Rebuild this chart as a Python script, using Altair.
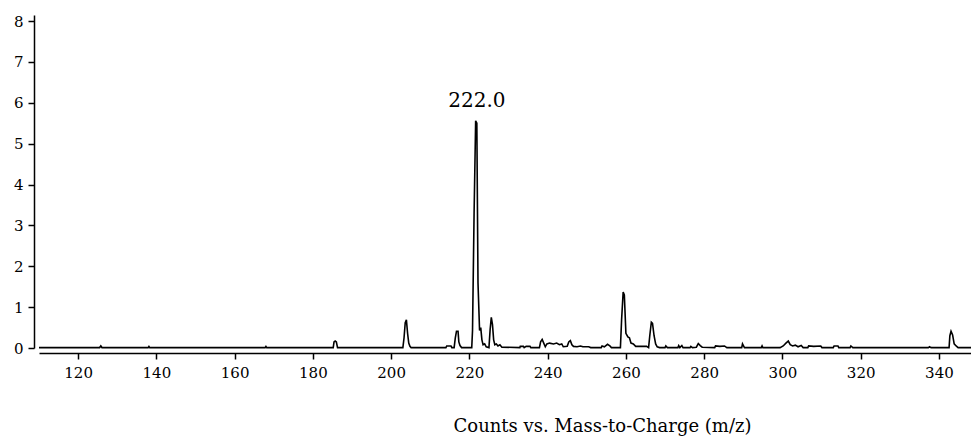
import altair as alt
import pandas as pd

# Spectrum profile (m/z, counts)
mz = [110, 125.5, 125.8, 126.1, 137.9, 138.1, 138.3, 167.8, 168.0, 168.2,
      185.2, 185.4, 185.7, 186.0, 186.3,
      203.0, 203.3, 203.6, 203.9, 204.2, 204.5, 204.8, 205.1,
      214.0, 214.2, 215.3, 215.5,
      216.1, 216.4, 216.7, 217.1, 217.3, 217.6, 218.0,
      220.6, 220.8, 221.2, 221.6, 221.9, 222.2, 222.6, 222.9, 223.2, 223.5, 223.9, 224.3,
      225.0, 225.3, 225.6, 225.9, 226.2, 226.5, 226.9, 227.3, 227.8, 228.3,
      232.9, 233.0, 233.8, 234.0, 234.5, 235.5, 235.7,
      237.9, 238.2, 238.6, 239.0, 239.4, 239.8, 240.5, 241.5, 242.3, 243.0, 243.6, 244.0,
      245.0, 245.4, 245.8, 246.2, 246.6, 247.5, 248.4, 249.0, 250.5, 251.0,
      253.7, 253.9, 254.5, 255.3, 255.9, 256.3,
      258.6, 258.9, 259.3, 259.6, 260.0, 260.5, 260.9, 261.3, 261.9, 262.5, 265.3,
      265.8, 266.1, 266.5, 266.8, 267.2, 267.6, 268.0, 268.6,
      270.0, 270.2, 270.6, 273.3, 273.5, 273.8, 274.3, 274.6, 276.4, 276.6, 277.0,
      278.0, 278.5, 279.0, 279.5, 282.7, 282.9, 284.0, 285.2, 285.8,
      289.6, 289.8, 290.3, 294.6, 294.8, 295.0,
      299.4, 300.2, 300.9, 301.5, 302.0, 302.6, 303.3, 304.0, 304.8, 305.3,
      306.5, 306.7, 308.0, 309.8, 310.1, 313.0, 313.2, 314.2, 314.4,
      317.3, 317.5, 318.0, 337.3, 337.6, 338.0,
      342.6, 342.8, 343.1, 343.5, 343.9, 344.4, 344.9, 348.2]
counts = [0.01, 0.01, 0.05, 0.01, 0.01, 0.04, 0.01, 0.01, 0.04, 0.01,
          0.01, 0.15, 0.17, 0.15, 0.01,
          0.01, 0.25, 0.62, 0.69, 0.36, 0.12, 0.04, 0.01,
          0.01, 0.05, 0.05, 0.01,
          0.01, 0.25, 0.41, 0.41, 0.15, 0.06, 0.01,
          0.01, 0.43, 3.3, 5.56, 5.5, 1.59, 0.43, 0.5, 0.2, 0.08, 0.1, 0.03,
          0.01, 0.45, 0.75, 0.57, 0.2, 0.08, 0.1, 0.05, 0.08, 0.02,
          0.01, 0.04, 0.04, 0.01, 0.04, 0.04, 0.01,
          0.01, 0.15, 0.21, 0.12, 0.03, 0.1, 0.12, 0.1, 0.12, 0.08, 0.1, 0.03,
          0.04, 0.15, 0.18, 0.08, 0.04, 0.03, 0.05, 0.03, 0.03, 0.01,
          0.01, 0.05, 0.03, 0.09, 0.05, 0.01,
          0.01, 0.69, 1.37, 1.3, 0.36, 0.27, 0.25, 0.12, 0.1, 0.04, 0.04,
          0.01, 0.3, 0.63, 0.6, 0.3, 0.1, 0.03, 0.01,
          0.01, 0.05, 0.01, 0.01, 0.06, 0.01, 0.06, 0.01, 0.01, 0.04, 0.01,
          0.02, 0.11, 0.06, 0.02, 0.01, 0.05, 0.04, 0.05, 0.01,
          0.01, 0.1, 0.01, 0.01, 0.05, 0.01,
          0.01, 0.05, 0.12, 0.17, 0.08, 0.05, 0.07, 0.03, 0.06, 0.01,
          0.01, 0.05, 0.04, 0.05, 0.01, 0.01, 0.05, 0.05, 0.01,
          0.01, 0.05, 0.01, 0.01, 0.03, 0.01,
          0.01, 0.3, 0.41, 0.32, 0.1, 0.05, 0.01, 0.01]

x_ticks = [120, 140, 160, 180, 200, 220, 240, 260, 280, 300, 320, 340]
y_ticks = [0, 1, 2, 3, 4, 5, 6, 7, 8]

label_mz = [221.9]
label_counts = [5.56]
label_text = ["222.0"]

FONT = "DejaVu Serif"

df = pd.DataFrame({"mz": mz, "counts": counts})
lab = pd.DataFrame({"mz": label_mz, "counts": label_counts, "text": label_text})

x_enc = alt.X(
    "mz:Q",
    scale=alt.Scale(domain=[110, 348.2], nice=False, zero=False),
    axis=alt.Axis(
        values=x_ticks, title="Counts vs. Mass-to-Charge (m/z)", offset=5,
        grid=False, domainColor="black", domainWidth=1.5, tickColor="black",
        tickWidth=1.5, tickSize=6, labelFont=FONT, labelFontSize=15,
        labelColor="black", labelPadding=6, labelFlush=False,
        titleFont=FONT, titleFontSize=18, titleFontWeight="normal",
        titleColor="black", titleX=563, titleY=78, titleAlign="center",
        titleBaseline="alphabetic",
    ),
)
y_enc = alt.Y(
    "counts:Q",
    scale=alt.Scale(domain=[0, 8.15], nice=False),
    axis=alt.Axis(
        values=y_ticks, title=None, offset=5, grid=False, domainColor="black",
        domainWidth=1.5, tickColor="black", tickWidth=1.5, tickSize=6,
        labelFont=FONT, labelFontSize=15, labelColor="black", labelPadding=5,
        labelFlush=False,
    ),
)

line = alt.Chart(df).mark_line(color="black", strokeWidth=1.6, interpolate="linear").encode(
    x=x_enc, y=y_enc
)

text = alt.Chart(lab).mark_text(
    font=FONT, fontSize=20, color="black", align="center", baseline="alphabetic", dy=-14
).encode(x="mz:Q", y="counts:Q", text="text:N")

chart = (
    alt.layer(line, text)
    .properties(
        width=932, height=333,
        autosize=alt.AutoSizeParams(type="none"),
        padding={"left": 39, "top": 15, "right": 0, "bottom": 96},
        background="white",
    )
    .configure_view(stroke=None)
)

chart.save("out.html", embed_options={"renderer": "svg", "actions": False})
